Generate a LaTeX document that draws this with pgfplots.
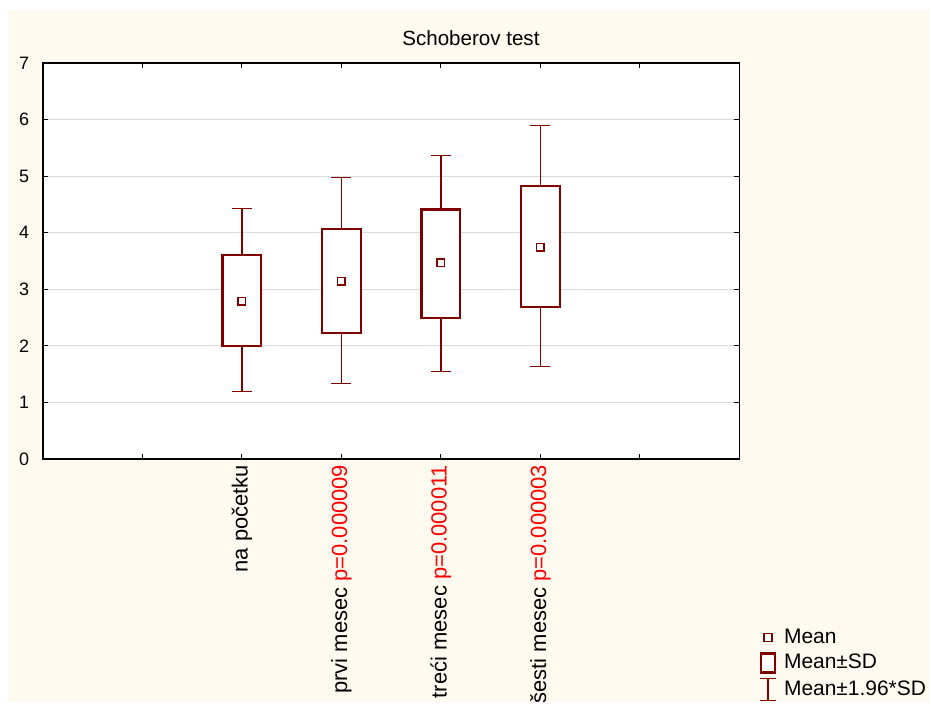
\documentclass[border=0pt]{standalone}
\usepackage{fontspec}
\setmainfont{Liberation Sans}
\usepackage{pgfplots}
\pgfplotsset{compat=1.18}
\usepgfplotslibrary{statistics}
\definecolor{darkred}{RGB}{128,0,0}
\definecolor{cream}{RGB}{255,250,240}
\definecolor{gridgray}{RGB}{217,217,217}
\pgfplotsset{
  mybox/.style={
    draw=darkred, line width=1.3pt,
    boxplot/draw direction=y,
    boxplot/box extend=0.39,
    boxplot/whisker extend=0.2,
    boxplot/every box/.style={draw=darkred, line width=2.3pt, fill=white},
    boxplot/every whisker/.style={draw=darkred, line width=1.3pt},
    boxplot/every median/.style={draw=none},
    forget plot
  }
}
\begin{document}
\fontsize{20}{24}\selectfont
\begin{tikzpicture}[x=1pt,y=1pt]
\fill[white] (0,0) rectangle (931,704);
\fill[cream] (8,0) rectangle (931,694);
\begin{axis}[
  at={(43pt,244pt)}, anchor=south west,
  width=698pt, height=397pt, scale only axis,
  xmin=0, xmax=7, ymin=0, ymax=7,
  axis background/.style={fill=white},
  axis line style={line width=1.6pt, black},
  xtick={0,1,2,3,4,5,6,7},
  ytick={0,1,2,3,4,5,6,7},
  xticklabels={,,{na početku},{prvi mesec \textcolor{red}{p=0.000009}},{treći mesec \textcolor{red}{p=0.000011}},{šesti mesec \textcolor{red}{p=0.000003}},,},
  tick align=inside,
  major tick length=5pt,
  tick style={black, line width=1pt},
  ymajorgrids,
  grid style={gridgray, line width=1pt},
  /pgf/number format/assume math mode=true,
  yticklabel style={font=\fontsize{18}{21}\selectfont},
  yticklabel shift=7pt,
  xticklabel style={font=\fontsize{22}{26}\selectfont, rotate=90, anchor=east},
  xticklabel shift=-1pt,
  title={Schoberov test},
  title style={font=\fontsize{20.6}{24}\selectfont, yshift=4pt, xshift=80pt},
  legend style={at={(1.024,-0.418)}, anchor=north west, draw=none, fill=none,
    font=\fontsize{21}{25}\selectfont, row sep=4pt,
    /tikz/every even column/.append style={column sep=0pt}},
  legend cell align=left,
]
\addplot[mybox, boxplot prepared={draw position=2, lower whisker=1.19, lower quartile=2.00, median=2.79, upper quartile=3.60, upper whisker=4.43}] coordinates {};
\addplot[mybox, boxplot prepared={draw position=3, lower whisker=1.33, lower quartile=2.23, median=3.14, upper quartile=4.07, upper whisker=4.97}] coordinates {};
\addplot[mybox, boxplot prepared={draw position=4, lower whisker=1.54, lower quartile=2.49, median=3.47, upper quartile=4.41, upper whisker=5.36}] coordinates {};
\addplot[mybox, boxplot prepared={draw position=5, lower whisker=1.63, lower quartile=2.69, median=3.74, upper quartile=4.83, upper whisker=5.89}] coordinates {};
\addplot[only marks, mark=square, mark size=3.7pt, darkred, line width=1.6pt, mark options={solid, fill=white}, forget plot] coordinates {(2,2.79) (3,3.14) (4,3.47) (5,3.74)};
\addlegendimage{legend image code/.code={\draw[darkred, line width=1.6pt, fill=white] (4pt,-4pt) rectangle (12pt,4pt); \path (0pt,0pt) (22pt,0pt);}}
\addlegendentry{Mean}
\addlegendimage{legend image code/.code={\draw[darkred, line width=2.4pt, fill=white] (1pt,-9.5pt) rectangle (15pt,9.5pt); \path (0pt,0pt) (22pt,0pt);}}
\addlegendentry{Mean±SD}
\addlegendimage{legend image code/.code={\draw[darkred, line width=1.3pt] (8pt,-11pt)--(8pt,11pt) (0pt,-11pt)--(16pt,-11pt) (0pt,11pt)--(16pt,11pt); \path (0pt,0pt) (22pt,0pt);}}
\addlegendentry{Mean±1.96*SD}
\end{axis}
\end{tikzpicture}
\end{document}
